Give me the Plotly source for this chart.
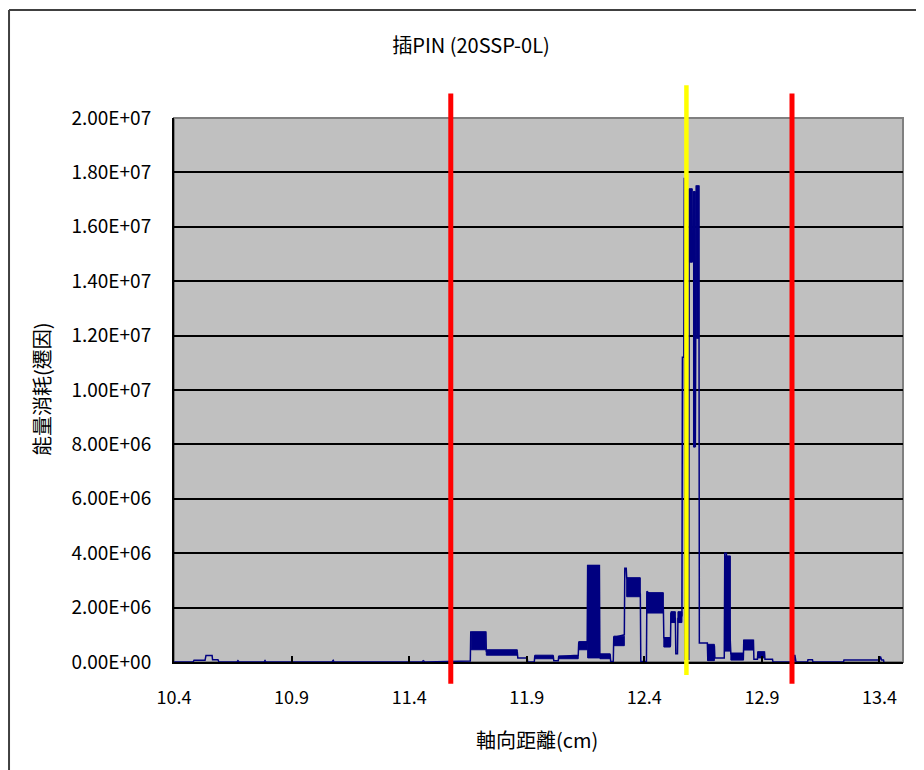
import plotly.graph_objects as go

# ---------------- data ----------------
# main trace (x in cm, y in units of 1E+06)
line_x = [10.400, 10.481, 10.485, 10.532, 10.536, 10.562, 10.564, 10.587, 10.591,
          10.668, 10.672, 10.677, 10.783, 10.787, 10.791, 11.072, 11.077, 11.081,
          11.455, 11.460, 11.468, 11.583, 11.660, 11.662, 11.726, 11.728, 11.860,
          11.862, 11.902, 11.904, 11.932, 11.934, 12.013, 12.015, 12.034, 12.036,
          12.119, 12.121, 12.157, 12.159, 12.209, 12.211, 12.255, 12.257, 12.268,
          12.270, 12.306, 12.315, 12.317, 12.323, 12.325, 12.383, 12.385, 12.409,
          12.411, 12.481, 12.483, 12.511, 12.513, 12.532, 12.534, 12.541, 12.543,
          12.560, 12.562, 12.568, 12.570, 12.572, 12.589, 12.591, 12.604, 12.609,
          12.617, 12.621, 12.632, 12.634, 12.668, 12.670, 12.698, 12.700, 12.740,
          12.742, 12.749, 12.766, 12.768, 12.821, 12.823, 12.864, 12.866, 12.881,
          12.883, 12.911, 12.913, 12.945, 12.947, 13.036, 13.040, 13.045, 13.094,
          13.096, 13.115, 13.117, 13.247, 13.249, 13.400, 13.404, 13.409, 13.417,
          13.419]
line_y = [0.00, 0.00, 0.06, 0.06, 0.24, 0.24, 0.08, 0.08, 0.00,
          0.00, 0.05, 0.00, 0.00, 0.05, 0.00, 0.00, 0.06, 0.00,
          0.00, 0.05, 0.00, 0.03, 0.04, 1.10, 1.10, 0.40, 0.35,
          0.15, 0.15, 0.00, 0.00, 0.20, 0.20, 0.05, 0.05, 0.20,
          0.25, 0.70, 0.70, 3.55, 3.55, 0.25, 0.25, 0.02, 0.02,
          0.90, 1.00, 1.00, 3.45, 3.45, 3.10, 2.50, 0.02, 0.02,
          2.60, 2.00, 0.90, 0.60, 1.80, 1.60, 0.30, 0.30, 1.60,
          1.70, 11.20, 11.20, 17.80, 0.10, 0.10, 17.40, 14.70, 17.30,
          7.90, 17.50, 17.50, 0.70, 0.70, 0.05, 0.60, 0.15, 0.15,
          4.00, 4.00, 0.40, 0.30, 0.10, 0.80, 0.80, 0.10, 0.10,
          0.37, 0.37, 0.10, 0.10, 0.00, 0.00, 0.26, 0.00, 0.00,
          0.08, 0.08, 0.00, 0.00, 0.07, 0.07, 0.20, 0.07, 0.07,
          0.00]

# densely oscillating stretches of the trace (x start, x end, low, high in 1E+06)
band_x0 = [11.664, 11.728, 11.934, 12.036, 12.121, 12.159, 12.211, 12.270, 12.325,
           12.411, 12.483, 12.513, 12.543, 12.591, 12.609, 12.621, 12.670, 12.742,
           12.768, 12.823, 12.883]
band_x1 = [11.726, 11.860, 12.013, 12.119, 12.157, 12.209, 12.255, 12.315, 12.383,
           12.481, 12.511, 12.532, 12.560, 12.604, 12.617, 12.632, 12.698, 12.766,
           12.821, 12.864, 12.911]
band_lo = [0.45, 0.25, 0.12, 0.12, 0.45, 0.15, 0.12, 0.60, 2.40,
           1.80, 0.55, 1.45, 1.45, 14.70, 7.90, 11.90, 0.05, 0.40,
           0.07, 0.44, 0.15]
band_hi = [1.10, 0.45, 0.25, 0.22, 0.75, 3.55, 0.30, 0.95, 3.10,
           2.55, 0.90, 1.85, 1.85, 17.40, 17.30, 17.50, 0.65, 3.90,
           0.33, 0.80, 0.37]

# marker lines (cm)
red_lines = [11.577, 13.028]
yellow_lines = [12.579]

x_ticks = [10.4, 10.9, 11.4, 11.9, 12.4, 12.9, 13.4]
x_tick_text = ["10.4", "10.9", "11.4", "11.9", "12.4", "12.9", "13.4"]
y_ticks = [0, 2e6, 4e6, 6e6, 8e6, 1e7, 1.2e7, 1.4e7, 1.6e7, 1.8e7, 2e7]
y_tick_text = ["0.00E+00", "2.00E+06", "4.00E+06", "6.00E+06", "8.00E+06", "1.00E+07",
               "1.20E+07", "1.40E+07", "1.60E+07", "1.80E+07", "2.00E+07"]

title_text = "插PIN (20SSP-0L)"
x_title = "軸向距離(cm)"
y_title = "能量消耗(遷因)"

SCALE = 1e6
NAVY = "#000080"
FONT = "Noto Sans CJK TC"

# ---------------- figure ----------------
fig = go.Figure()

bx, by = [], []
for x0, x1, lo, hi in zip(band_x0, band_x1, band_lo, band_hi):
    bx += [x0, x1, x1, x0, x0, None]
    by += [lo * SCALE, lo * SCALE, hi * SCALE, hi * SCALE, lo * SCALE, None]
fig.add_trace(go.Scatter(x=bx, y=by, mode="lines", fill="toself", fillcolor=NAVY,
                         line=dict(color=NAVY, width=1), hoverinfo="skip",
                         showlegend=False))
fig.add_trace(go.Scatter(x=line_x, y=[v * SCALE for v in line_y], mode="lines",
                         line=dict(color=NAVY, width=1.5), showlegend=False))

shapes = []
for xv in red_lines:
    shapes.append(dict(type="line", xref="x", yref="paper", x0=xv, x1=xv,
                       y0=-0.04, y1=1.045, line=dict(color="#FF0000", width=5)))
for xv in yellow_lines:
    shapes.append(dict(type="line", xref="x", yref="paper", x0=xv, x1=xv,
                       y0=-0.024, y1=1.06, line=dict(color="#FFFF00", width=4.5)))
# plot-area frame (grey top/right)
shapes.append(dict(type="rect", xref="paper", yref="paper", x0=0, x1=1, y0=0, y1=1,
                   line=dict(color="#808080", width=2), layer="below"))
# outer chart border (top and left)
shapes.append(dict(type="line", xref="paper", yref="paper", x0=-0.2263, x1=1.04,
                   y0=1.1985, y1=1.1985, line=dict(color="#404040", width=2)))
shapes.append(dict(type="line", xref="paper", yref="paper", x0=-0.2263, x1=-0.2263,
                   y0=-0.21, y1=1.1985, line=dict(color="#404040", width=2)))

annotations = [
    dict(text=x_title, xref="paper", yref="paper", x=0.498, y=-0.143,
         showarrow=False, font=dict(family=FONT, size=20, color="black"),
         xanchor="center", yanchor="middle"),
    dict(text=y_title, xref="paper", yref="paper", x=-0.181, y=0.502,
         showarrow=False, textangle=-90, font=dict(family=FONT, size=20, color="black"),
         xanchor="center", yanchor="middle"),
]

# the page body has an 8 px margin, so the figure is 8 px smaller than the window
fig.update_layout(
    width=916, height=762,
    margin=dict(l=166, r=21, t=110, b=108),
    paper_bgcolor="white",
    plot_bgcolor="#C0C0C0",
    title=dict(text=title_text, x=463 / 916, y=1 - 38 / 762, xanchor="center",
               yanchor="middle", xref="container", yref="container",
               font=dict(family=FONT, size=20, color="black")),
    shapes=shapes,
    annotations=annotations,
    showlegend=False,
    xaxis=dict(range=[10.4, 13.5], tickvals=x_ticks, ticktext=x_tick_text,
               showgrid=False, zeroline=False, showline=True, linecolor="black",
               linewidth=2, ticks="inside", ticklen=6, tickcolor="black",
               tickwidth=1.5, ticklabelstandoff=18,
               tickfont=dict(family=FONT, size=18, color="black")),
    yaxis=dict(range=[0, 2e7], tickvals=y_ticks, ticktext=y_tick_text,
               showgrid=True, gridcolor="black", gridwidth=1.5, zeroline=False,
               showline=True, linecolor="black", linewidth=2, ticks="",
               ticklabelstandoff=17,
               tickfont=dict(family=FONT, size=19, color="black")),
)

fig.write_html("out.html")
